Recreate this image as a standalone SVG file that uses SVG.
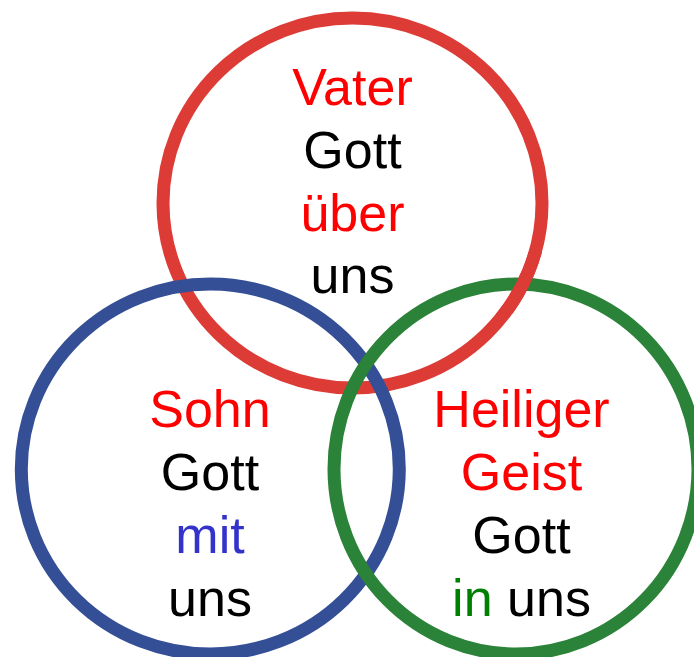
<svg xmlns="http://www.w3.org/2000/svg" width="694" height="657" viewBox="0 0 694 657">
  <style>
    .ring { fill: none; stroke-width: 13; }
    .red-ring { stroke: #DC3B36; }
    .blue-ring { stroke: #344F96; }
    .green-ring { stroke: #2B8239; }
    text { font-family: "Liberation Sans", Arial, sans-serif; font-size: 52px; text-anchor: middle; }
    .r { fill: #FF0000; }
    .k { fill: #000000; }
    .b { fill: #3333CC; }
    .g { fill: #008000; }
  </style>
  <defs>
    <clipPath id="weave">
      <rect x="488" y="252" width="60" height="62"/>
    </clipPath>
  </defs>
  <rect width="694" height="657" fill="#FFFFFF"/>

  <g id="rings">
    <ellipse class="ring red-ring" cx="352.5" cy="203" rx="189.5" ry="185"/>
    <ellipse class="ring blue-ring" cx="210.3" cy="469" rx="189" ry="185"/>
    <ellipse class="ring green-ring" cx="516" cy="469" rx="182" ry="185"/>
    <!-- red passes over green at the upper crossing -->
    <ellipse class="ring red-ring" cx="352.5" cy="203" rx="189.5" ry="185" clip-path="url(#weave)"/>
  </g>

  <g id="vater">
    <text x="352.5" y="105" class="r">Vater</text>
    <text x="352.5" y="168" class="k">Gott</text>
    <text x="352.5" y="231" class="r">über</text>
    <text x="352.5" y="293" class="k">uns</text>
  </g>

  <g id="sohn">
    <text x="210" y="427" class="r">Sohn</text>
    <text x="210" y="490" class="k">Gott</text>
    <text x="210" y="553" class="b">mit</text>
    <text x="210" y="616" class="k">uns</text>
  </g>

  <g id="geist">
    <text x="521.5" y="427" class="r">Heiliger</text>
    <text x="521.5" y="490" class="r">Geist</text>
    <text x="521.5" y="553" class="k">Gott</text>
    <text x="521.5" y="616"><tspan class="g">in</tspan><tspan class="k"> uns</tspan></text>
  </g>
</svg>
